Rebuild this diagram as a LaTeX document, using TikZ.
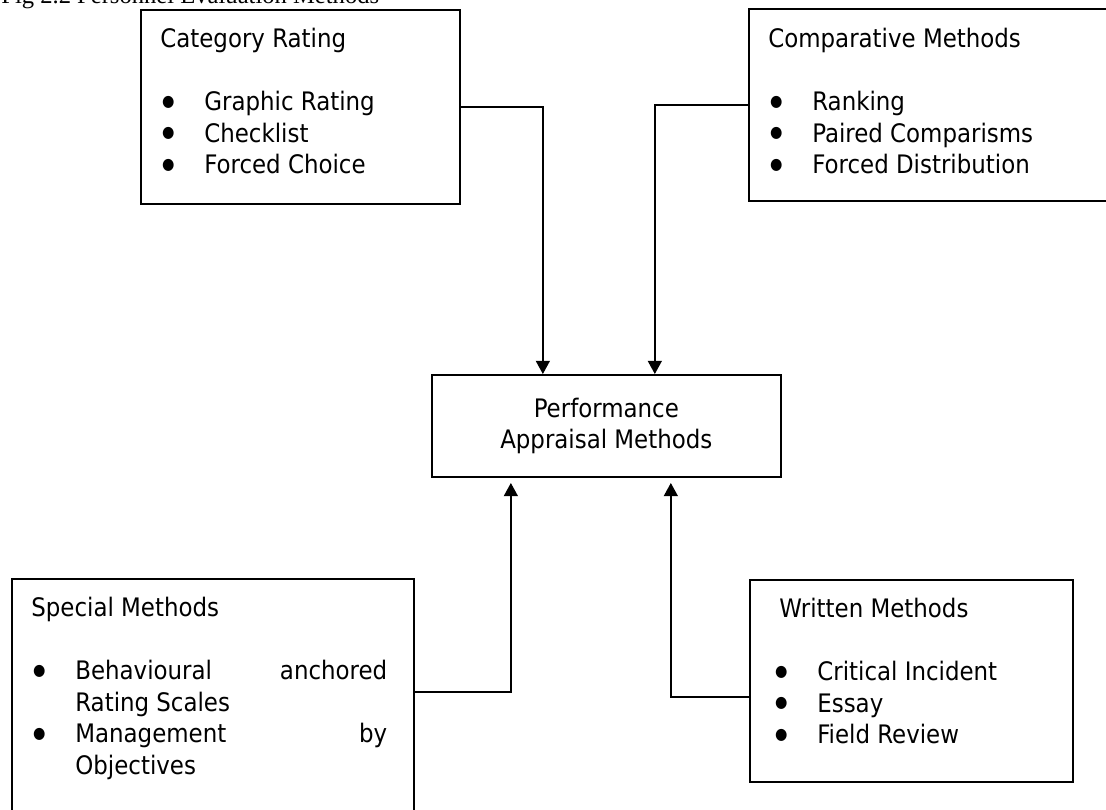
\documentclass[tikz,border=0pt]{standalone}
\usepackage{fontspec}
\setmainfont{DejaVu Sans Condensed}
\newfontfamily\capfont{Liberation Serif}
\usepackage{tikz}
\usetikzlibrary{
    positioning,                      % right=of, below=of, etc.
    arrows.meta,                      % Triangle tips
    calc
}
\tikzset{
    methodbox/.style={
        rectangle, draw, line width=1pt,
        anchor=north west, inner sep=0pt
    },
    listtext/.style={
        anchor=north west, inner sep=0pt, align=left,
        font=\fontsize{14.5}{17.9}\selectfont
    },
    arrow/.style={
        -{Triangle[width=8pt,length=7.5pt]}, line width=0.8pt
    }
}
% bullet item with hanging text
\newcommand{\itm}[1]{\makebox[0.88cm][l]{\hspace*{1pt}\raisebox{2.5pt}{\fontsize{9}{9}\selectfont ●}}#1}
\newcommand{\hang}[1]{\hspace*{0.88cm}#1}

\begin{document}
\begin{tikzpicture}[x=0.02cm, y=-0.02cm]
    \useasboundingbox (0,0) rectangle (1106,810);

    % --- Caption (cut at the top edge, as in the source) ---
    \node[anchor=base west, inner sep=0pt, font=\capfont\fontsize{14}{16}\selectfont]
        (fig_caption) at (1,4) {Fig 2.2 Personnel Evaluation Methods};

    % --- Upper boxes ---
    \node[methodbox, minimum width=6.38cm, minimum height=3.88cm] (cat)  at (140,9) {};
    \node[listtext] (cat_text) at ([shift={(20,19)}]cat.north west)
        {Category Rating\\[18pt]
         \itm{Graphic Rating}\\
         \itm{Checklist}\\
         \itm{Forced Choice}};

    \node[methodbox, minimum width=7.44cm, minimum height=3.84cm] (comp) at (748,8) {};
    \node[listtext] (comp_text) at ([shift={(20,20)}]comp.north west)
        {Comparative Methods\\[18pt]
         \itm{Ranking}\\
         \itm{Paired Comparisms}\\
         \itm{Forced Distribution}};

    % --- Centre ---
    \node[methodbox, minimum width=6.98cm, minimum height=2.04cm, align=center,
          font=\fontsize{14.5}{17.9}\selectfont] (apm) at (431,374)
        {Performance\\Appraisal Methods};

    % --- Lower boxes ---
    \node[methodbox, minimum width=8.04cm, minimum height=4.84cm] (spec) at (11,578) {};
    \node[listtext] (spec_text) at ([shift={(20,19)}]spec.north west)
        {Special Methods\\[18pt]
         \itm{\makebox[6.24cm][s]{Behavioural\hfill anchored}}\\
         \hang{Rating Scales}\\
         \itm{\makebox[6.24cm][s]{Management\hfill by}}\\
         \hang{Objectives}};

    \node[methodbox, minimum width=6.46cm, minimum height=4.04cm] (writ) at (749,579) {};
    \node[listtext] (writ_text) at ([shift={(24,19)}]writ.north west)
        {\hspace*{0.12cm}Written Methods\\[18pt]
         \itm{Critical Incident}\\
         \itm{Essay}\\
         \itm{Field Review}};

    % --- Connectors ---
    \draw[arrow] (cat.east)  -| ([xshift=-1.27cm]apm.north);
    \draw[arrow] (comp.west) -| ([xshift=0.97cm]apm.north);
    \draw[arrow] ([yshift=0.16cm]spec.east)  -| ([xshift=-1.91cm, yshift=-3pt]apm.south);
    \draw[arrow] ([yshift=-0.32cm]writ.west) -| ([xshift=1.29cm, yshift=-3pt]apm.south);

\end{tikzpicture}
\end{document}
